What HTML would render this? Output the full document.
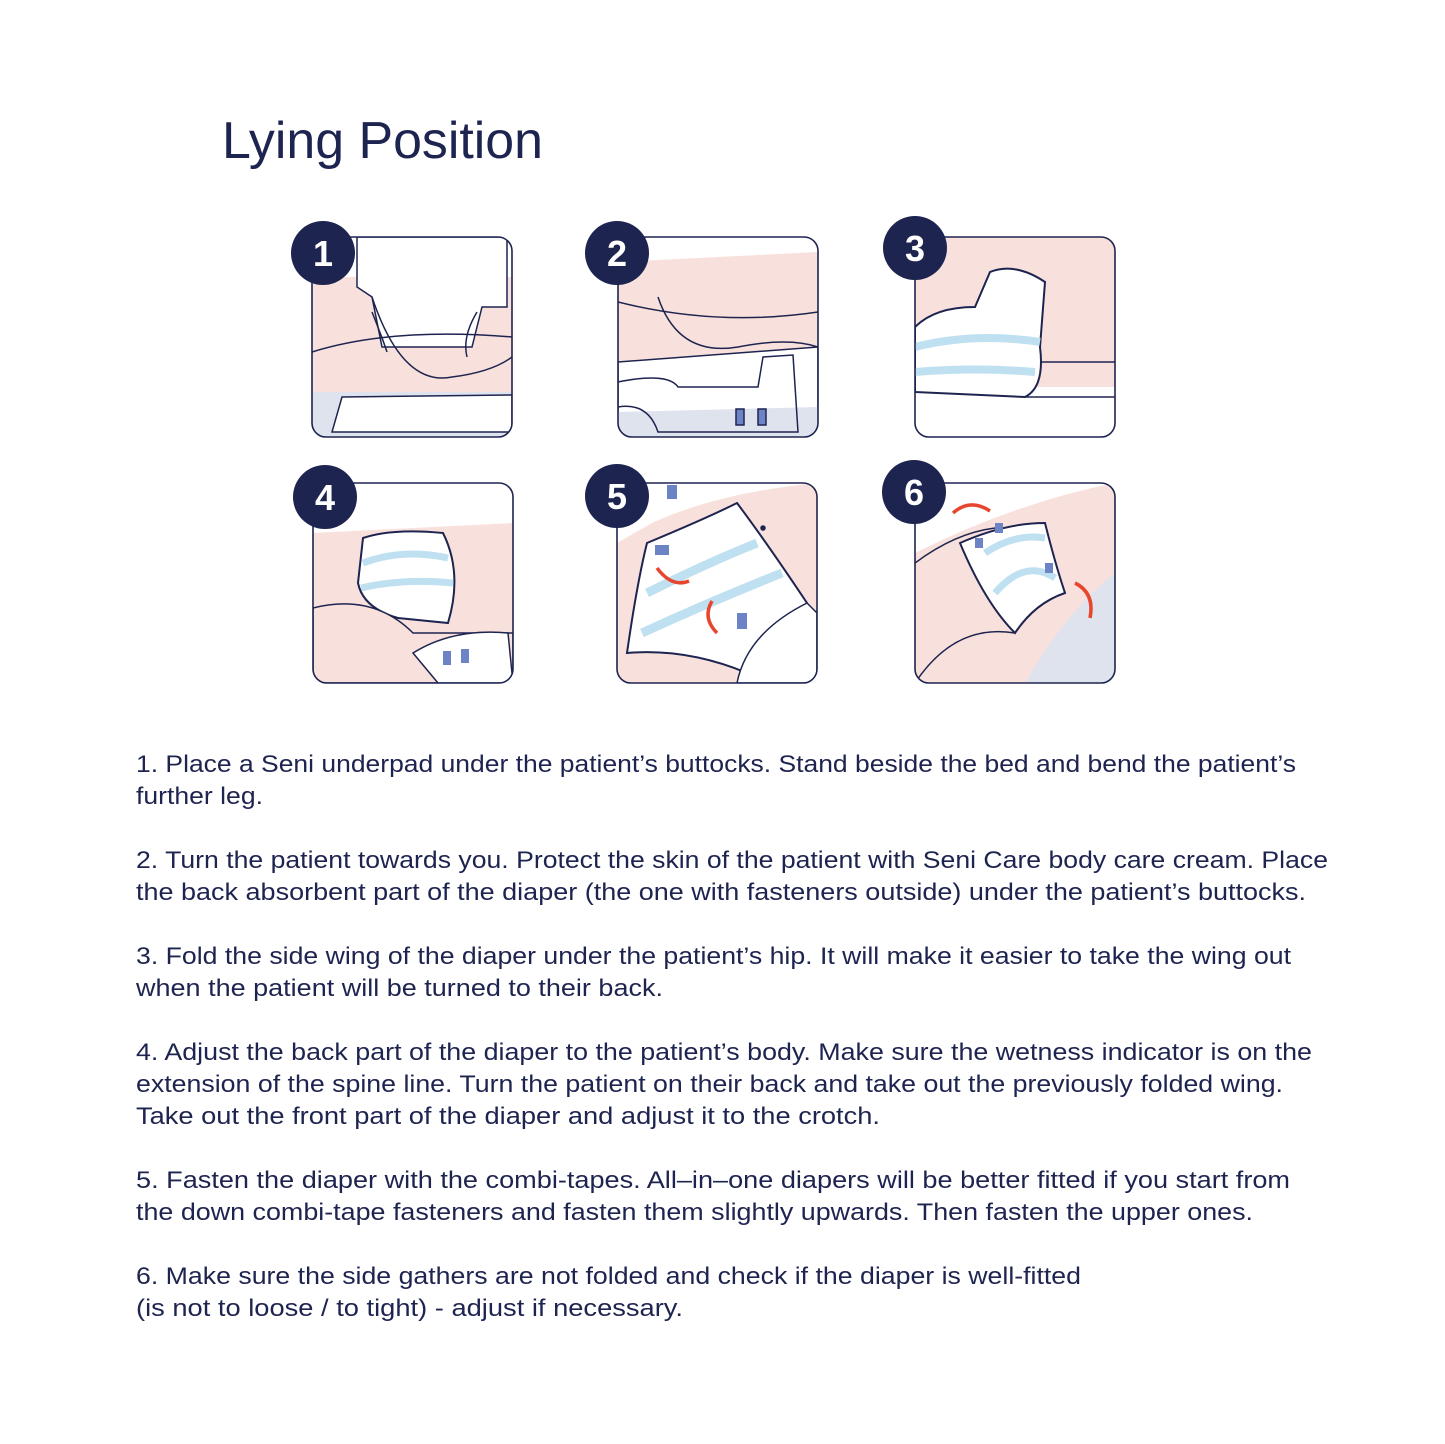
<!DOCTYPE html>
<html><head><meta charset="utf-8"><style>
html,body{margin:0;padding:0;background:#fff;}
svg{display:block;}
text{font-family:"Liberation Sans",sans-serif;fill:#1e2450;}
.t{font-size:24.5px;}
</style></head><body>
<svg width="1445" height="1444" viewBox="0 0 1445 1444" xmlns="http://www.w3.org/2000/svg">
<defs>
<clipPath id="c"><rect x="0" y="0" width="200" height="200" rx="14"/></clipPath>
</defs>
<text x="222" y="158" font-size="52" textLength="321" lengthAdjust="spacingAndGlyphs">Lying Position</text>

<!-- Panel 1 -->
<g transform="translate(312,237)">
<g clip-path="url(#c)" stroke="#1e2450" stroke-width="1.5" fill="none">
<rect width="200" height="200" fill="#fff" stroke="none"/>
<path d="M0,40 L200,40 L200,160 L0,160Z" fill="#f8e1dc" stroke="none"/>
<path d="M45,0 L195,0 L195,70 L170,70 L160,110 L70,110 L60,60 L45,50Z" fill="#fff"/>
<path d="M0,155 L200,155 L200,200 L0,200Z" fill="#dfe3ee" stroke="none"/>
<path d="M30,160 L200,158 L200,195 L20,195Z" fill="#fff"/>
<path d="M0,115 Q80,90 200,100"/>
<path d="M60,60 Q90,150 140,140 Q180,135 200,120"/>
<path d="M60,75 Q70,100 75,115 M165,75 Q150,100 155,120"/>
</g>
<rect width="200" height="200" rx="14" fill="none" stroke="#1e2450" stroke-width="1.6"/>
</g>

<!-- Panel 2 -->
<g transform="translate(618,237)">
<g clip-path="url(#c)" stroke="#1e2450" stroke-width="1.5" fill="none">
<rect width="200" height="200" fill="#f8e1dc" stroke="none"/>
<path d="M0,0 L200,0 L200,15 L0,25Z" fill="#fff" stroke="none"/>
<path d="M0,125 L200,110 L200,200 L0,200Z" fill="#fff"/>
<path d="M0,175 L200,170 L200,200 L0,200Z" fill="#dfe3ee" stroke="none"/>
<path d="M0,145 Q50,135 60,150 L140,150 L145,120 L175,118 L180,195 L40,195 Q30,165 0,170"/>
<rect x="118" y="172" width="8" height="16" fill="#6c83c6"/>
<rect x="140" y="172" width="8" height="16" fill="#6c83c6"/>
<path d="M0,65 Q100,90 200,75 M40,60 Q60,120 120,110 Q170,100 200,110"/>
</g>
<rect width="200" height="200" rx="14" fill="none" stroke="#1e2450" stroke-width="1.6"/>
</g>

<!-- Panel 3 -->
<g transform="translate(915,237)">
<g clip-path="url(#c)" stroke="#1e2450" stroke-width="1.5" fill="none">
<rect width="200" height="200" fill="#f8e1dc" stroke="none"/>
<path d="M0,150 L200,150 L200,200 L0,200Z" fill="#fff" stroke="none"/>
<path d="M0,90 Q20,70 60,70 L75,35 Q100,25 130,45 L125,110 Q130,150 110,160 L0,155Z" fill="#fff" stroke-width="2"/>
<path d="M0,110 Q60,95 125,105" stroke="#bfe0f1" stroke-width="8"/>
<path d="M0,135 Q60,130 120,135" stroke="#bfe0f1" stroke-width="8"/>
<path d="M125,125 L200,125 M110,160 L200,160"/>
</g>
<rect width="200" height="200" rx="14" fill="none" stroke="#1e2450" stroke-width="1.6"/>
</g>

<!-- Panel 4 -->
<g transform="translate(313,483)">
<g clip-path="url(#c)" stroke="#1e2450" stroke-width="1.5" fill="none">
<rect width="200" height="200" fill="#f8e1dc" stroke="none"/>
<path d="M0,0 L200,0 L200,40 L0,50Z" fill="#fff" stroke="none"/>
<path d="M50,55 Q80,45 130,50 Q150,90 135,140 L85,135 Q50,125 45,100Z" fill="#fff" stroke-width="2"/>
<path d="M50,80 Q90,65 135,75 M48,105 Q90,95 140,100" stroke="#bfe0f1" stroke-width="7"/>
<path d="M0,125 Q60,110 100,150 L200,150 L200,200 L0,200Z" fill="#f8e1dc"/>
<path d="M100,170 Q140,145 195,150 L200,200 L125,200Z" fill="#fff"/>
<rect x="130" y="168" width="8" height="14" fill="#6c83c6" stroke="none"/>
<rect x="148" y="166" width="8" height="14" fill="#6c83c6" stroke="none"/>
</g>
<rect width="200" height="200" rx="14" fill="none" stroke="#1e2450" stroke-width="1.6"/>
</g>

<!-- Panel 5 -->
<g transform="translate(617,483)">
<g clip-path="url(#c)" stroke="#1e2450" stroke-width="1.5" fill="none">
<rect width="200" height="200" fill="#f8e1dc" stroke="none"/>
<path d="M35,40 Q100,10 200,0 L200,0 L0,0 L0,60Z" fill="#fff" stroke="none"/>
<path d="M30,60 Q90,35 120,20 Q150,60 190,120 L130,190 Q70,165 10,170 Q20,100 30,60Z" fill="#fff" stroke-width="2"/>
<path d="M30,110 Q90,80 140,60 M25,150 Q90,120 165,90" stroke="#bfe0f1" stroke-width="9"/>
<path d="M120,200 Q130,150 190,120 L200,130 L200,200Z" fill="#fff"/>
<rect x="38" y="62" width="14" height="10" fill="#6c83c6" stroke="none"/>
<rect x="50" y="2" width="10" height="14" fill="#6c83c6" stroke="none"/>
<rect x="120" y="130" width="10" height="16" fill="#6c83c6" stroke="none"/>
<path d="M40,85 Q55,105 72,98" stroke="#e8452f" stroke-width="3.5"/>
<path d="M100,150 Q85,135 95,118" stroke="#e8452f" stroke-width="3.5"/>
<circle cx="146" cy="45" r="2" fill="#1e2450"/>
</g>
<rect width="200" height="200" rx="14" fill="none" stroke="#1e2450" stroke-width="1.6"/>
</g>

<!-- Panel 6 -->
<g transform="translate(915,483)">
<g clip-path="url(#c)" stroke="#1e2450" stroke-width="1.5" fill="none">
<rect width="200" height="200" fill="#f8e1dc" stroke="none"/>
<path d="M200,90 L200,200 L110,200 Q150,130 200,90Z" fill="#dfe3ee" stroke="none"/>
<path d="M0,70 Q100,20 200,0 L200,0 L0,0Z" fill="#fff" stroke="none"/>
<path d="M45,60 Q90,40 130,40 Q140,80 150,110 Q120,120 100,150 Q70,120 45,60Z" fill="#fff" stroke-width="2"/>
<path d="M70,70 Q100,50 130,55 M80,110 Q110,75 140,95" stroke="#bfe0f1" stroke-width="7"/>
<path d="M0,200 Q40,140 100,150 M0,80 Q40,50 80,45"/>
<rect x="60" y="55" width="8" height="10" fill="#6c83c6" stroke="none"/>
<rect x="80" y="40" width="8" height="10" fill="#6c83c6" stroke="none"/>
<rect x="130" y="80" width="8" height="10" fill="#6c83c6" stroke="none"/>
<path d="M38,30 Q55,15 75,28" stroke="#e8452f" stroke-width="3.5"/>
<path d="M160,100 Q180,110 175,135" stroke="#e8452f" stroke-width="3.5"/>
</g>
<rect width="200" height="200" rx="14" fill="none" stroke="#1e2450" stroke-width="1.6"/>
</g>

<!-- Number circles -->
<g font-size="36" font-weight="bold" text-anchor="middle">
<circle cx="323" cy="253" r="32" fill="#1e2450"/><text x="323" y="266" style="fill:#fff">1</text>
<circle cx="617" cy="253" r="32" fill="#1e2450"/><text x="617" y="266" style="fill:#fff">2</text>
<circle cx="915" cy="248" r="32" fill="#1e2450"/><text x="915" y="261" style="fill:#fff">3</text>
<circle cx="325" cy="497" r="32" fill="#1e2450"/><text x="325" y="510" style="fill:#fff">4</text>
<circle cx="617" cy="496" r="32" fill="#1e2450"/><text x="617" y="509" style="fill:#fff">5</text>
<circle cx="914" cy="492" r="32" fill="#1e2450"/><text x="914" y="505" style="fill:#fff">6</text>
</g>

<g class="t">
<text x="136" y="772" textLength="1160" lengthAdjust="spacingAndGlyphs">1. Place a Seni underpad under the patient’s buttocks. Stand beside the bed and bend the patient’s</text>
<text x="136" y="804" textLength="127" lengthAdjust="spacingAndGlyphs">further leg.</text>
<text x="136" y="868" textLength="1192" lengthAdjust="spacingAndGlyphs">2. Turn the patient towards you. Protect the skin of the patient with Seni Care body care cream. Place</text>
<text x="136" y="900" textLength="1170" lengthAdjust="spacingAndGlyphs">the back absorbent part of the diaper (the one with fasteners outside) under the patient’s buttocks.</text>
<text x="136" y="964" textLength="1155" lengthAdjust="spacingAndGlyphs">3. Fold the side wing of the diaper under the patient’s hip. It will make it easier to take the wing out</text>
<text x="136" y="996" textLength="527" lengthAdjust="spacingAndGlyphs">when the patient will be turned to their back.</text>
<text x="136" y="1060" textLength="1176" lengthAdjust="spacingAndGlyphs">4. Adjust the back part of the diaper to the patient’s body. Make sure the wetness indicator is on the</text>
<text x="136" y="1092" textLength="1147" lengthAdjust="spacingAndGlyphs">extension of the spine line. Turn the patient on their back and take out the previously folded wing.</text>
<text x="136" y="1124" textLength="744" lengthAdjust="spacingAndGlyphs">Take out the front part of the diaper and adjust it to the crotch.</text>
<text x="136" y="1188" textLength="1154" lengthAdjust="spacingAndGlyphs">5. Fasten the diaper with the combi-tapes. All–in–one diapers will be better fitted if you start from</text>
<text x="136" y="1220" textLength="1117" lengthAdjust="spacingAndGlyphs">the down combi-tape fasteners and fasten them slightly upwards. Then fasten the upper ones.</text>
<text x="136" y="1284" textLength="945" lengthAdjust="spacingAndGlyphs">6. Make sure the side gathers are not folded and check if the diaper is well-fitted</text>
<text x="136" y="1316" textLength="547" lengthAdjust="spacingAndGlyphs">(is not to loose / to tight) - adjust if necessary.</text>
</g>
</svg>
</body></html>
